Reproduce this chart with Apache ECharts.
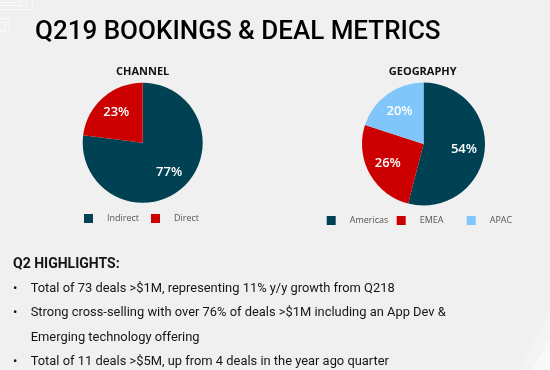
<!DOCTYPE html>
<html>
<head>
<meta charset="utf-8">
<script src="https://cdn.jsdelivr.net/npm/echarts@6/dist/echarts.min.js"></script>
<style>
  html, body { margin: 0; padding: 0; background: #f0f0f0; }
  #chart { width: 550px; height: 370px; }
</style>
</head>
<body>
<div id="chart"></div>
<script>
// ---- data ----
var pageTitle = 'Q219 BOOKINGS & DEAL METRICS';
var channelTitle = 'CHANNEL';
var channelNames = ['Indirect', 'Direct'];
var channelValues = [77, 23];
var geoTitle = 'GEOGRAPHY';
var geoNames = ['Americas', 'EMEA', 'APAC'];
var geoValues = [54, 26, 20];
var highlightsTitle = 'Q2 HIGHLIGHTS:';
var highlightLines = [
  { bullet: true,  text: 'Total of 73 deals >$1M, representing 11% y/y growth from Q218' },
  { bullet: true,  text: 'Strong cross-selling with over 76% of deals >$1M including an App Dev &' },
  { bullet: false, text: 'Emerging technology offering' },
  { bullet: true,  text: 'Total of 11 deals >$5M, up from 4 deals in the year ago quarter' }
];

// ---- styles ----
var DARK = '#004153', RED = '#cc0000', LIGHT = '#80c6fa';
var channelColors = [DARK, RED];
var geoColors = [DARK, RED, LIGHT];
var FONT = 'Roboto';

function pieData(names, values, colors) {
  return names.map(function (n, i) {
    return { name: n, value: values[i], itemStyle: { color: colors[i] } };
  });
}
function labelData(names, values) {
  return names.map(function (n, i) {
    return { name: n, value: values[i], itemStyle: { color: 'rgba(0,0,0,0)' } };
  });
}

var chCenter = [142.7, 142.7], chR = 60;
var geoCenter = [423.5, 144], geoR = 61.5;

function mainPie(center, r, names, values, colors) {
  return {
    type: 'pie', center: center, radius: [0, r], startAngle: 90, clockwise: true,
    silent: true, animation: false,
    label: { show: false }, labelLine: { show: false },
    data: pieData(names, values, colors)
  };
}
function labelPie(center, r, names, values, inner) {
  return {
    type: 'pie', center: center, radius: [inner, r], startAngle: 90, clockwise: true,
    silent: true, animation: false, legendHoverLink: false,
    label: {
      show: true, position: 'inside', color: '#ffffff', fontSize: 13,
      fontFamily: 'Open Sans', fontWeight: 600,
      formatter: function (p) { return p.value + '%'; }
    },
    labelLine: { show: false },
    data: labelData(names, values)
  };
}

var legends = [];
function addLegend(name, left, top) {
  legends.push({
    data: [name], left: left, top: top, padding: 0, icon: 'rect',
    itemWidth: 9, itemHeight: 9, selectedMode: false,
    textStyle: { fontSize: 9, color: '#555', fontFamily: 'Open Sans', padding: [0, 0, 0, 9] }
  });
}
addLegend(channelNames[0], 84, 214);
addLegend(channelNames[1], 151, 214);
addLegend(geoNames[0], 326.7, 216);
addLegend(geoNames[1], 396.7, 216);
addLegend(geoNames[2], 466.7, 216);

var graphics = [];
// decorative background shapes
graphics.push({ type: 'polygon', silent: true, shape: { points: [[550, 312], [550, 370], [518, 370]] }, style: { fill: '#f4f4f4' } });
graphics.push({ type: 'polygon', silent: true, shape: { points: [[550, 338], [550, 370], [532, 370]] }, style: { fill: '#f9f9f9' } });
[[-10.5, -10.5, 43, 20], [-10.5, -10.5, 37, 16], [-10.5, -10.5, 31, 13], [-10.5, 18.5, 20, 13], [-10.5, 22.5, 16, 7]].forEach(function (r) {
  graphics.push({ type: 'rect', silent: true, shape: { x: r[0], y: r[1], width: r[2], height: r[3] }, style: { fill: null, stroke: '#fafafa', lineWidth: 1 } });
});

graphics.push({
  type: 'text', left: 13, top: 257, silent: true,
  style: { text: highlightsTitle, fontSize: 14, fontWeight: 'bold', fontFamily: FONT, fill: '#151515' }
});
var lineY = [288.3, 312.7, 337.3, 361.7];
highlightLines.forEach(function (l, i) {
  if (l.bullet) {
    graphics.push({ type: 'text', x: 13, y: lineY[i], silent: true,
      style: { text: '•', fontSize: 13, fontFamily: FONT, fill: '#151515', textVerticalAlign: 'middle' } });
  }
  graphics.push({ type: 'text', x: 30.7, y: lineY[i], silent: true,
    style: { text: l.text, fontSize: 12.9, fontFamily: FONT, fill: '#151515', textVerticalAlign: 'middle' } });
});

var option = {
  backgroundColor: '#f0f0f0',
  animation: false,
  title: [
    { text: pageTitle, left: 35, top: 19, padding: 0,
      textStyle: { fontSize: 26, fontWeight: 500, color: '#000', fontFamily: FONT } },
    { text: channelTitle, left: 142.7, top: 66, padding: 0, textAlign: 'center',
      textStyle: { fontSize: 11, fontWeight: 'bold', color: '#111', fontFamily: 'Open Sans' } },
    { text: geoTitle, left: 422.7, top: 66, padding: 0, textAlign: 'center',
      textStyle: { fontSize: 11, fontWeight: 'bold', color: '#111', fontFamily: 'Open Sans' } }
  ],
  legend: legends,
  series: [
    mainPie(chCenter, chR, channelNames, channelValues, channelColors),
    labelPie(chCenter, chR, channelNames, channelValues, 14),
    mainPie(geoCenter, geoR, geoNames, geoValues, geoColors),
    labelPie(geoCenter, geoR, geoNames, geoValues, 14)
  ],
  graphic: graphics
};

var chart = echarts.init(document.getElementById('chart'), null, { renderer: 'canvas' });
chart.setOption(option);
</script>
</body>
</html>
